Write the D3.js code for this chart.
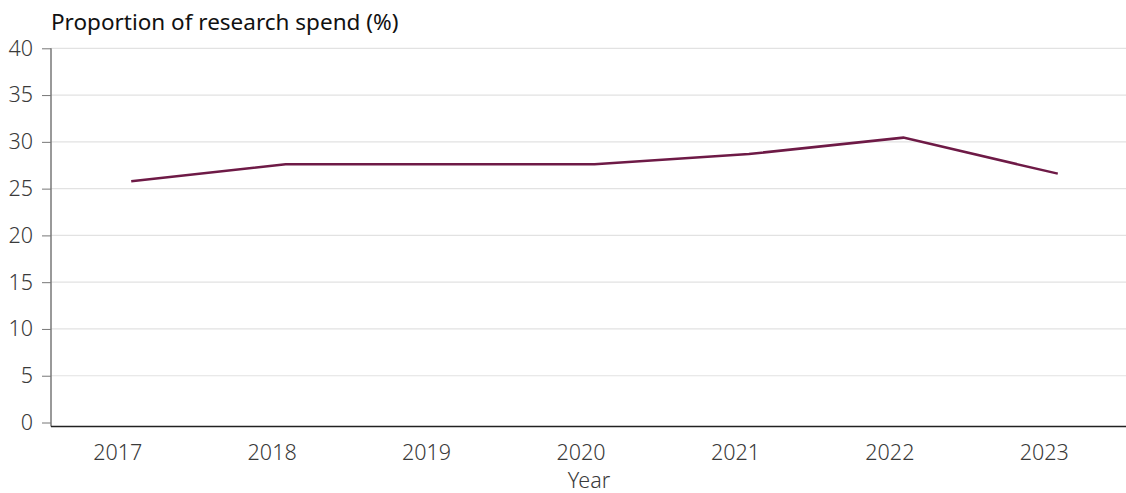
<!DOCTYPE html>
<html>
<head>
<meta charset="utf-8">
<script src="https://cdn.jsdelivr.net/npm/d3@7"></script>
<style>
  body { margin: 0; background: #fff; }
  svg text { font-family: "Noto Sans", "Open Sans", sans-serif; }
</style>
</head>
<body>
<svg id="chart"></svg>
<script>
// chart data
var years = ['2017', '2018', '2019', '2020', '2021', '2022', '2023'];
var spend = [25.8, 27.6, 27.6, 27.6, 28.7, 30.45, 26.6];
var yTicks = [0, 5, 10, 15, 20, 25, 30, 35, 40];

var width = 1126,
    height = 493,
    plotLeft = 51,
    plotRight = 1126,
    plotTop = 48.3,
    plotBottom = 422.5,
    pointShift = 14; // line points sit a little right of the tick labels

var svg = d3.select('#chart')
    .attr('width', width)
    .attr('height', height);

var x = d3.scalePoint()
    .domain(years)
    .range([40, 1121])
    .padding(0.5);

var y = d3.scaleLinear()
    .domain([0, 40])
    .range([plotBottom, plotTop]);

// grid lines
svg.append('g')
    .selectAll('line')
    .data(yTicks.filter(function(d) { return d > 0; }))
    .enter().append('line')
    .attr('x1', plotLeft)
    .attr('x2', plotRight)
    .attr('y1', function(d) { return y(d); })
    .attr('y2', function(d) { return y(d); })
    .style('stroke', '#e2e2e2')
    .style('stroke-width', 1.2);

// y axis
var yAxis = d3.axisLeft(y)
    .tickValues(yTicks)
    .tickSize(9)
    .tickPadding(9);

var gy = svg.append('g')
    .attr('transform', 'translate(' + plotLeft + ',0)')
    .call(yAxis);
gy.select('.domain').remove();
gy.selectAll('.tick line').style('stroke', '#777');
gy.selectAll('text')
    .style('font-size', '21.5px')
    .style('font-weight', 300)
    .style('fill', '#3a3a3a');
gy.append('line')
    .attr('x1', 0).attr('x2', 0)
    .attr('y1', plotTop).attr('y2', plotBottom + 4)
    .style('stroke', '#777')
    .style('stroke-width', 1.5);

// x axis
var xAxis = d3.axisBottom(x).tickSize(0).tickPadding(18);
var gx = svg.append('g')
    .attr('transform', 'translate(0,' + (plotBottom + 4) + ')')
    .call(xAxis);
gx.select('.domain').remove();
gx.selectAll('text')
    .style('font-size', '21.5px')
    .style('font-weight', 300)
    .style('fill', '#3a3a3a');
gx.append('line')
    .attr('x1', plotLeft).attr('x2', plotRight)
    .attr('y1', 0).attr('y2', 0)
    .style('stroke', '#222')
    .style('stroke-width', 1.5);

// line
var line = d3.line()
    .x(function(d, i) { return x(years[i]) + pointShift; })
    .y(function(d) { return y(d); });

svg.append('path')
    .datum(spend)
    .attr('d', line)
    .style('fill', 'none')
    .style('stroke', '#6e1a46')
    .style('stroke-width', 2.5);

// titles
svg.append('text')
    .attr('x', 51)
    .attr('y', 30)
    .style('font-size', '22.5px')
    .style('fill', '#111')
    .text('Proportion of research spend (%)');

svg.append('text')
    .attr('x', (plotLeft + plotRight) / 2 + 0.5)
    .attr('y', 488)
    .attr('text-anchor', 'middle')
    .style('font-size', '21.5px')
    .style('font-weight', 300)
    .style('fill', '#3a3a3a')
    .text('Year');
</script>
</body>
</html>
